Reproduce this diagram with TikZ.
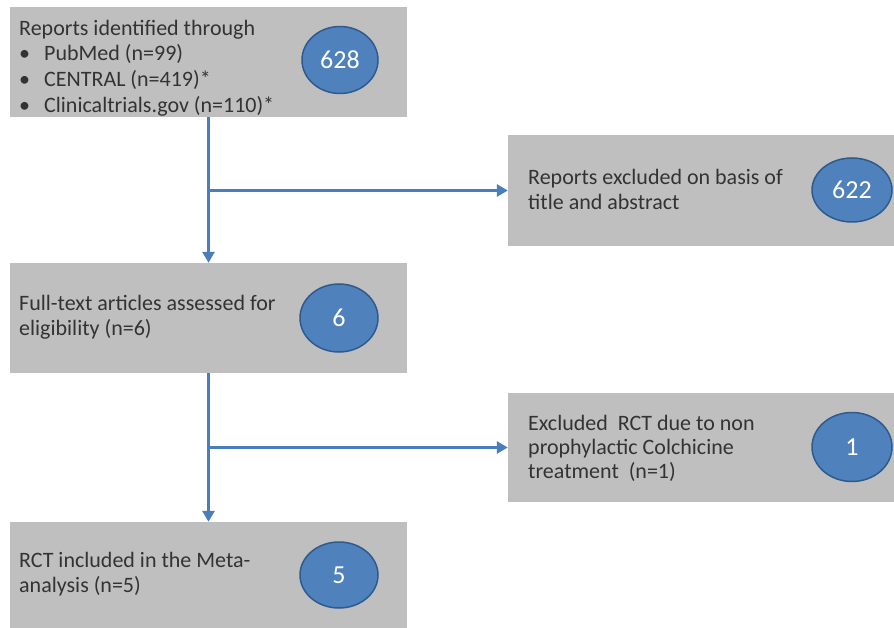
\documentclass[tikz,border=0pt]{standalone}
\usepackage{fontspec}
\setmainfont{Carlito}
\usetikzlibrary{shapes.geometric,arrows.meta}
\definecolor{boxgray}{HTML}{BFBFBF}
\definecolor{txtgray}{HTML}{333333}
\definecolor{ellblue}{HTML}{4F81BD}
\definecolor{ellborder}{HTML}{2F5A8C}
\definecolor{arrowblue}{HTML}{4A7EBB}
\tikzset{
  graybox/.style={rectangle, fill=boxgray, inner sep=0pt},
  boxtext/.style={anchor=west, align=left, text=txtgray, inner sep=0pt,
    font=\fontsize{22}{25}\selectfont},
  countell/.style={ellipse, fill=ellblue, draw=ellborder, line width=1.5pt,
    inner sep=0pt, text=white, font=\fontsize{26}{30}\selectfont},
  flow/.style={draw=arrowblue, line width=3pt,
    -{Triangle[width=12pt,length=11pt]}},
}
\newcommand{\bul}{\makebox[25pt][l]{\textbullet}}
\begin{document}
\begin{tikzpicture}[x=1pt,y=-1pt]
\fill[white] (0,0) rectangle (894,628);
\useasboundingbox (0,0) rectangle (894,628);
% boxes
\node[graybox, minimum width=397pt, minimum height=110pt] (b1) at (208.5,62) {};
\node[graybox, minimum width=386pt, minimum height=111pt] (b2) at (701,190.5) {};
\node[graybox, minimum width=397pt, minimum height=110pt] (b3) at (208.5,318) {};
\node[graybox, minimum width=386pt, minimum height=109pt] (b4) at (701,447.5) {};
\node[graybox, minimum width=397pt, minimum height=106pt] (b5) at (208.5,575) {};
% texts
\node[boxtext, font=\fontsize{22}{25.7}\selectfont] (t1) at (19,68) {Reports identified through\\
\bul PubMed (n=99)\\
\bul CENTRAL (n=419)*\\
\bul Clinicaltrials.gov (n=110)*};
\node[boxtext] (t2) at (528,189.5) {Reports excluded on basis of\\title and abstract};
\node[boxtext] (t3) at (19,317) {Full-text articles assessed for\\eligibility (n=6)};
\node[boxtext, font=\fontsize{22}{24}\selectfont] (t4) at (528,448.5) {Excluded\ \ RCT due to non\\prophylactic Colchicine\\treatment\ \ (n=1)};
\node[boxtext] (t5) at (19,574) {RCT included in the Meta-\\analysis (n=5)};
% counts
\node[countell, minimum width=76pt, minimum height=67pt] (e1) at (340,60) {628};
\node[countell, minimum width=80pt, minimum height=64pt] (e2) at (852,190) {622};
\node[countell, minimum width=78pt, minimum height=68pt] (e3) at (339,318) {6};
\node[countell, minimum width=80pt, minimum height=69pt] (e4) at (852,447) {1};
\node[countell, minimum width=78pt, minimum height=66pt] (e5) at (339,575) {5};
% connectors
\coordinate (j1) at (b1.south |- b2.west);
\coordinate (j2) at (b3.south |- b4.west);
\draw[flow] (b1.south) -- (b3.north);
\draw[flow] (j1) -- (b2.west);
\draw[flow] (b3.south) -- (b5.north);
\draw[flow] (j2) -- (b4.west);
\end{tikzpicture}
\end{document}
